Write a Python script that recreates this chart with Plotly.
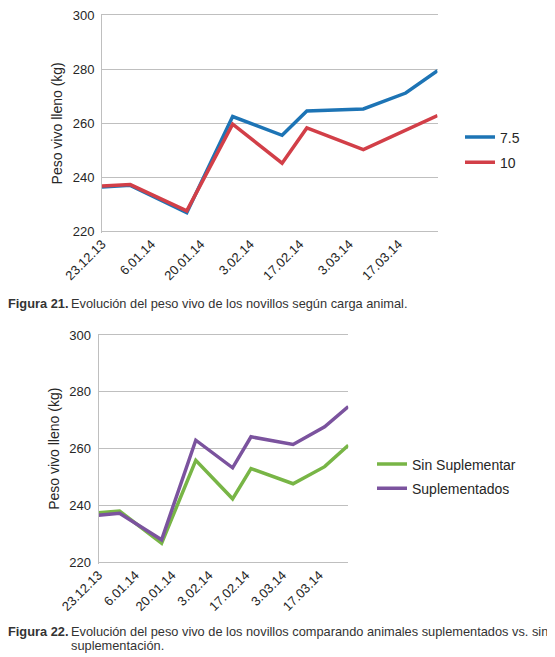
import plotly.graph_objects as go

# ---- data ----
fechas = ["2013-12-23", "2013-12-31", "2014-01-16", "2014-01-29", "2014-02-12",
          "2014-02-19", "2014-03-07", "2014-03-19", "2014-03-28"]

carga_7_5 = [236.5, 237.1, 227.0, 262.5, 255.6, 264.6, 265.3, 271.2, 279.4]
carga_10 = [236.9, 237.4, 227.7, 259.7, 245.3, 258.3, 250.3, 257.6, 262.9]

sin_suplementar = [237.5, 238.1, 226.8, 255.9, 242.4, 253.0, 247.7, 253.7, 261.2]
suplementados = [236.6, 237.3, 228.0, 263.0, 253.3, 264.2, 261.5, 267.7, 274.8]

tick_fechas = ["2013-12-23", "2014-01-06", "2014-01-20", "2014-02-03",
               "2014-02-17", "2014-03-03", "2014-03-17"]
tick_textos = ["23.12.13", "6.01.14", "20.01.14", "3.02.14",
               "17.02.14", "3.03.14", "17.03.14"]

y_ticks = [220, 240, 260, 280, 300]
Y_MIN, Y_MAX = 220, 300
PAD = 0.5  # small range padding so the end gridlines are always drawn

# page body has an 8px default margin, so the figure is drawn inside it
OFF = 8
W, H = 555 - OFF, 657 - OFF
FONT = "Liberation Sans, Arial, sans-serif"

BLUE = "#1D74B5"
RED = "#D23F48"
GREEN = "#78B546"
PURPLE = "#7B539E"
GRID = "#BFBFBF"
TXT = "#262626"

fig = go.Figure()

fig.add_trace(go.Scatter(x=fechas, y=carga_7_5, name="7.5", mode="lines",
                         line=dict(color=BLUE, width=3.5), xaxis="x", yaxis="y",
                         legend="legend", legendgroup="a"))
fig.add_trace(go.Scatter(x=fechas, y=carga_10, name="10", mode="lines",
                         line=dict(color=RED, width=3.5), xaxis="x", yaxis="y",
                         legend="legend", legendgroup="b"))
fig.add_trace(go.Scatter(x=fechas, y=sin_suplementar, name="Sin Suplementar", mode="lines",
                         line=dict(color=GREEN, width=3.5), xaxis="x2", yaxis="y2",
                         legend="legend2", legendgroup="c"))
fig.add_trace(go.Scatter(x=fechas, y=suplementados, name="Suplementados", mode="lines",
                         line=dict(color=PURPLE, width=3.5), xaxis="x2", yaxis="y2",
                         legend="legend2", legendgroup="d"))


def px_x(p):
    """screen x pixel -> paper fraction"""
    return (p - OFF) / W


def px_y(p):
    """screen y pixel (from top) -> paper fraction"""
    return 1 - (p - OFF) / H


def y_domain(top_px, bottom_px):
    """domain so that Y_MAX sits at top_px and Y_MIN at bottom_px"""
    k = (bottom_px - top_px) / (Y_MAX - Y_MIN)
    return [px_y(bottom_px + PAD * k), px_y(top_px - PAD * k)]


xaxis_common = dict(
    type="date",
    range=["2013-12-23", "2014-03-28"],
    tickmode="array",
    tickvals=tick_fechas,
    ticktext=tick_textos,
    tickangle=-45,
    tickfont=dict(size=13, color=TXT, family=FONT),
    showgrid=False,
    showline=False,
    ticks="",
    zeroline=False,
    automargin=False,
    ticklabeloverflow="allow",
)
yaxis_common = dict(
    range=[Y_MIN - PAD, Y_MAX + PAD],
    tickmode="array",
    tickvals=y_ticks,
    tickfont=dict(size=13, color=TXT, family=FONT),
    showgrid=True,
    gridcolor=GRID,
    gridwidth=1,
    showline=True,
    linecolor=GRID,
    linewidth=1,
    ticks="",
    ticklabelstandoff=4,
    ticklabeloverflow="allow",
    zeroline=False,
    automargin=False,
    title=dict(text="Peso vivo lleno (kg)", font=dict(size=14, color=TXT, family=FONT), standoff=6),
)

fig.update_layout(
    width=W, height=H,
    margin=dict(l=0, r=0, t=0, b=0, autoexpand=False),
    paper_bgcolor="white",
    plot_bgcolor="white",
    font=dict(family=FONT, color=TXT),
    xaxis=dict(domain=[px_x(102), px_x(437.5)], anchor="y", **xaxis_common),
    yaxis=dict(domain=y_domain(15, 231.7), anchor="x", **yaxis_common),
    xaxis2=dict(domain=[px_x(98.5), px_x(348.3)], anchor="y2", **xaxis_common),
    yaxis2=dict(domain=y_domain(335, 562.5), anchor="x2", **yaxis_common),
    legend=dict(x=px_x(460), y=px_y(121.5), xanchor="left", yanchor="top",
                font=dict(size=14, color=TXT, family=FONT),
                traceorder="grouped", tracegroupgap=4,
                bgcolor="rgba(0,0,0,0)"),
    legend2=dict(x=px_x(372), y=px_y(448.5), xanchor="left", yanchor="top",
                 font=dict(size=14, color=TXT, family=FONT),
                 traceorder="grouped", tracegroupgap=3,
                 bgcolor="rgba(0,0,0,0)"),
    showlegend=True,
)

cap_font = dict(size=12.8, color="#333333", family=FONT)
cap_common = dict(xref="paper", yref="paper", xanchor="left", yanchor="middle",
                  showarrow=False, font=cap_font, borderpad=0, borderwidth=0)
annotations = [
    dict(text="<b>Figura 21.</b>", x=px_x(8), y=px_y(303.5), **cap_common),
    dict(text="Evolución del peso vivo de los novillos según carga animal.",
         x=px_x(71), y=px_y(303.5), **cap_common),
    dict(text="<b>Figura 22.</b>", x=px_x(8), y=px_y(631.7), **cap_common),
    dict(text="Evolución del peso vivo de los novillos comparando animales suplementados vs. sin",
         x=px_x(71), y=px_y(631.7), **cap_common),
    dict(text="suplementación.", x=px_x(70.5), y=px_y(645.7), **cap_common),
]
fig.update_layout(annotations=annotations)

fig.write_html("out.html")
